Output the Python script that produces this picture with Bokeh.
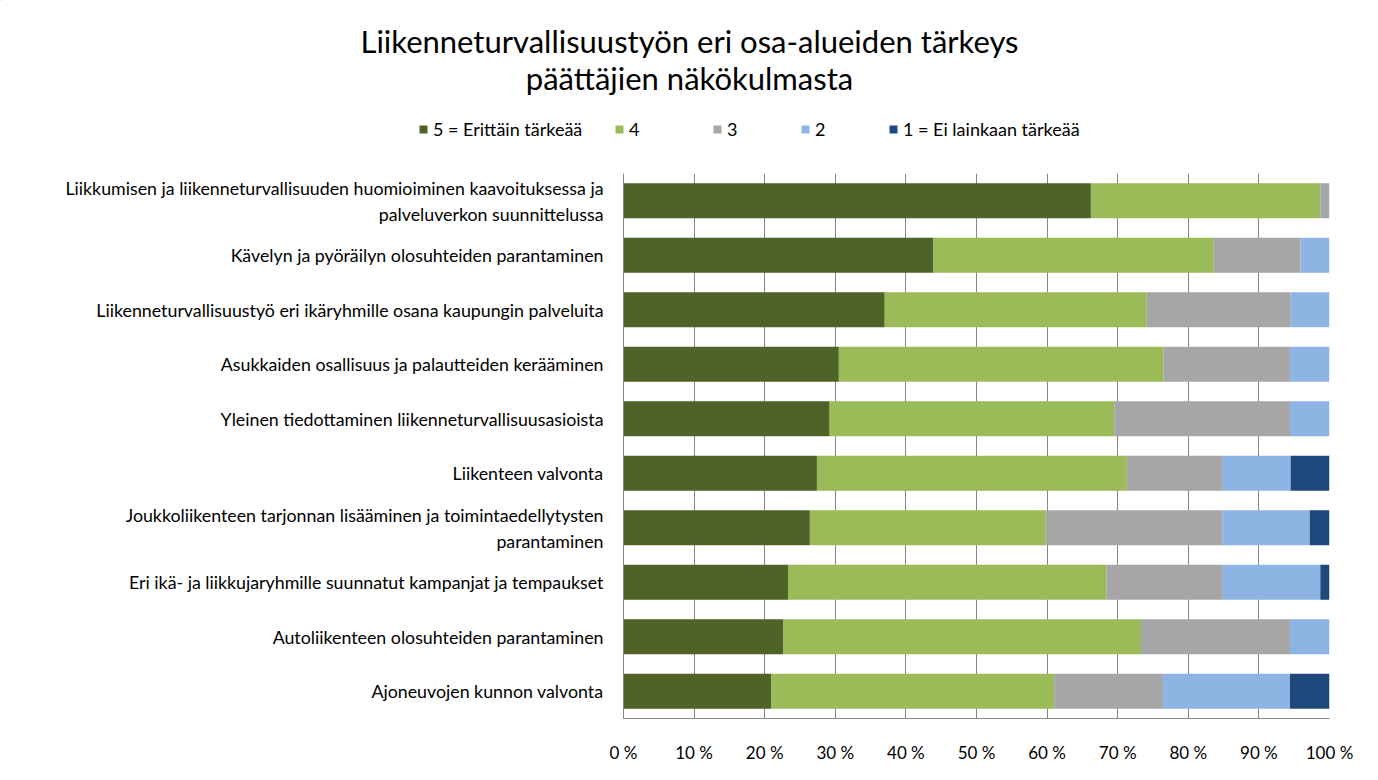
from bokeh.plotting import figure
from bokeh.layouts import column
from bokeh.models import (ColumnDataSource, FactorRange, Range1d, FixedTicker,
                          Legend, LegendItem)
from bokeh.core.properties import value
from bokeh.embed import file_html
from bokeh.resources import INLINE

categories = [
    "Liikkumisen ja liikenneturvallisuuden huomioiminen kaavoituksessa ja\npalveluverkon suunnittelussa",
    "Kävelyn ja pyöräilyn olosuhteiden parantaminen",
    "Liikenneturvallisuustyö eri ikäryhmille osana kaupungin palveluita",
    "Asukkaiden osallisuus ja palautteiden kerääminen",
    "Yleinen tiedottaminen liikenneturvallisuusasioista",
    "Liikenteen valvonta",
    "Joukkoliikenteen tarjonnan lisääminen ja toimintaedellytysten\nparantaminen",
    "Eri ikä- ja liikkujaryhmille suunnatut kampanjat ja tempaukset",
    "Autoliikenteen olosuhteiden parantaminen",
    "Ajoneuvojen kunnon valvonta",
]
v5 = [66.2, 43.9, 37.0, 30.5, 29.2, 27.4, 26.4, 23.3, 22.6, 20.9]
v4 = [32.5, 39.7, 37.1, 46.0, 40.3, 43.9, 33.4, 45.1, 50.7, 40.1]
v3 = [1.3, 12.3, 20.4, 17.9, 24.9, 13.6, 25.0, 16.5, 21.1, 15.4]
v2 = [0.0, 4.1, 5.5, 5.6, 5.6, 9.6, 12.4, 13.8, 5.6, 18.0]
v1 = [0.0, 0.0, 0.0, 0.0, 0.0, 5.5, 2.8, 1.3, 0.0, 5.6]
series_names = ["5 = Erittäin tärkeää", "4", "3", "2", "1 = Ei lainkaan tärkeää"]
colors = ["#4F6228", "#9BBB59", "#A6A6A6", "#8EB4E3", "#1F497D"]
tick_values = [0, 10, 20, 30, 40, 50, 60, 70, 80, 90, 100]
tick_labels = ["0 %", "10 %", "20 %", "30 %", "40 %", "50 %", "60 %", "70 %", "80 %", "90 %", "100 %"]
title_lines = ["Liikenneturvallisuustyön eri osa-alueiden tärkeys", "päättäjien näkökulmasta"]

FONT = "Lato"
W = 1370
TOP_H = 173

# ---------- header figure: title + legend ----------
top = figure(width=W, height=TOP_H, x_range=Range1d(0, W), y_range=Range1d(TOP_H, 0),
             min_border=0, x_axis_location=None, y_axis_location=None,
             output_backend="svg", toolbar_location=None)
top.grid.visible = False
top.outline_line_color = None
top.text(x=[689, 689], y=[40, 77], text=title_lines, text_align="center",
         text_baseline="middle", text_font=value(FONT), text_font_size="31px",
         text_color="#000000")

legend_x = [418, 614, 712, 800, 888]
for name, c, lx in zip(series_names, colors, legend_x):
    r = top.vbar(x=[-1000], top=[-1000], bottom=[-1001], width=1, fill_color=c, line_color=None)
    lg = Legend(items=[LegendItem(label=name, renderers=[r])],
                location=(lx, 33), orientation="horizontal",
                glyph_width=10, glyph_height=10, label_standoff=5,
                label_height=20, padding=0, margin=0, spacing=0,
                label_text_font=FONT, label_text_font_size="18px",
                label_text_color="#000000",
                border_line_alpha=0, background_fill_alpha=0)
    top.add_layout(lg, "center")

# ---------- main chart ----------
keys = ["s5", "s4", "s3", "s2", "s1"]
src = ColumnDataSource(dict(cat=categories, s5=v5, s4=v4, s3=v3, s2=v2, s1=v1))

p = figure(y_range=FactorRange(factors=list(reversed(categories))),
           x_range=Range1d(0, 100), title=None,
           frame_width=706, frame_height=545,
           min_border_left=623, min_border_right=W - 623 - 706,
           min_border_top=0, min_border_bottom=54,
           output_backend="svg", toolbar_location=None)

p.hbar_stack(keys, y="cat", height=0.64, color=colors, source=src, line_color=None)

p.outline_line_color = None
p.ygrid.grid_line_color = None
p.xgrid.grid_line_color = "#868686"
p.xgrid.grid_line_width = 1

p.xaxis.ticker = FixedTicker(ticks=tick_values)
p.xaxis.major_label_overrides = {v: l for v, l in zip(tick_values, tick_labels)}
p.xaxis.axis_line_color = "#868686"
p.xaxis.major_tick_line_color = None
p.xaxis.minor_tick_line_color = None
p.xaxis.major_label_standoff = 17
p.xaxis.major_label_text_font = FONT
p.xaxis.major_label_text_font_size = "17px"
p.xaxis.major_label_text_color = "#000000"

p.yaxis.axis_line_color = "#868686"
p.yaxis.major_tick_line_color = None
p.yaxis.minor_tick_line_color = None
p.yaxis.major_label_standoff = 14
p.yaxis.major_label_text_font = FONT
p.yaxis.major_label_text_font_size = "17.8px"
p.yaxis.major_label_text_color = "#000000"
p.yaxis.major_label_text_line_height = 1.2

layout = column(column(top), p, spacing=0)
open("out.html", "w").write(file_html(layout, INLINE))
